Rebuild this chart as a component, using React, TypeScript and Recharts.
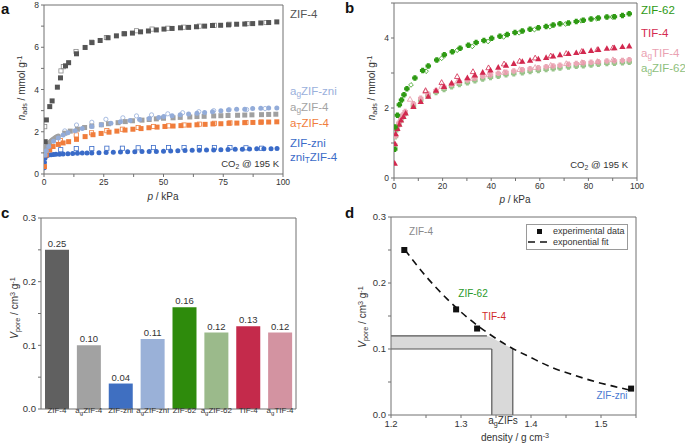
import React from 'react'
import {
  ScatterChart,
  Scatter,
  XAxis,
  YAxis,
  Bar,
  Cell,
  LabelList,
  ComposedChart,
  Line,
  Area,
  ReferenceLine,
} from 'recharts'

type Pt = [number, number]

// ---------- panel a: CO2 @ 195 K, ZIF-4 family (p / kPa, n / mmol g-1)
const zif4Ads: Pt[] = [[0.5, 1.53], [1, 2.56], [2.4, 3.19], [3.4, 3.46], [5.6, 4.11], [6.9, 4.55], [9, 5.12], [10.3, 5.27], [13.6, 5.69], [17.2, 5.99], [20.1, 6.22], [23.5, 6.32], [26.8, 6.45], [30.3, 6.54], [33.7, 6.64], [37, 6.67], [40.4, 6.73], [43.7, 6.77], [47, 6.82], [50.2, 6.86], [53.6, 6.89], [57.1, 6.92], [60.5, 6.94], [63.8, 6.97], [67.2, 7.0], [70.5, 7.03], [73.9, 7.04], [77.2, 7.06], [80.6, 7.09], [84, 7.1], [87.3, 7.12], [90.7, 7.15], [94, 7.17], [97.4, 7.2]]
const zif4Des: Pt[] = [[0.3, 2.24], [7.1, 4.88], [8.1, 5.08], [13.4, 5.8], [19.9, 6.24], [26.1, 6.46], [33.4, 6.64], [38.7, 6.78], [45.2, 6.86], [51.8, 6.9], [58.4, 6.95], [65, 7.0], [71.3, 7.04], [77.5, 7.09], [85, 7.12], [92.9, 7.17]]
const agZniAds: Pt[] = [[0.5, 0.9], [1, 1.1], [2, 1.3], [4, 1.55], [6, 1.7], [8, 1.85], [10, 1.95], [13, 2.05], [16, 2.15], [20, 2.25], [24, 2.33], [28, 2.4], [32, 2.47], [36, 2.53], [40, 2.58], [44, 2.63], [48, 2.68], [50.1, 2.72], [53.6, 2.76], [57, 2.8], [60.5, 2.84], [64, 2.88], [67.2, 2.91], [70.5, 2.95], [74, 3.0], [77.2, 3.03], [80.6, 3.06], [84, 3.07], [87.3, 3.1], [90.7, 3.11], [94, 3.13], [97.4, 3.13]]
const agZniDes: Pt[] = [[0.5, 1.45], [8.7, 2.04], [13.6, 2.32], [20, 2.45], [25.9, 2.59], [33, 2.66], [38.7, 2.75], [45, 2.8], [51.8, 2.85], [58, 2.9], [64.8, 2.95], [71, 3.0], [77.5, 3.05], [84.8, 3.05], [92.5, 3.1]]
const agZif4Low: Pt[] = [[0.3, 1.0], [0.6, 1.2], [1, 1.3], [1.5, 1.38], [2, 1.45], [2.5, 1.52], [3, 1.57], [3.5, 1.62], [4, 1.66], [4.5, 1.7], [5, 1.74], [5.5, 1.77], [6, 1.8]]
const agZif4Ads: Pt[] = [[8.7, 1.93], [11, 2.03], [14, 2.12], [17, 2.2], [20, 2.27], [24, 2.33], [27, 2.38], [31, 2.43], [34, 2.48], [37, 2.52], [41, 2.55], [44, 2.58], [47, 2.61], [50, 2.64], [54, 2.66], [57, 2.68], [61, 2.7], [64, 2.72], [67, 2.73], [71, 2.75], [74, 2.76], [77, 2.77], [81, 2.78], [84, 2.79], [87, 2.8], [91, 2.81], [94, 2.82], [97, 2.83]]
const aTZif4Ads: Pt[] = [[0.2, 0.35], [1, 0.9], [2.4, 1.14], [3.8, 1.3], [6, 1.4], [8, 1.47], [10.3, 1.53], [13.6, 1.64], [17.2, 1.77], [20.5, 1.86], [23.9, 1.92], [27.2, 1.98], [30.5, 2.03], [33.9, 2.08], [37.2, 2.12], [40.6, 2.15], [43.9, 2.19], [47.3, 2.22], [50.6, 2.25], [54, 2.27], [57.3, 2.29], [60.7, 2.31], [64, 2.33], [67.4, 2.35], [70.7, 2.37], [74, 2.38], [77.4, 2.4], [80.7, 2.41], [84, 2.43], [87.4, 2.44], [90.7, 2.45], [94, 2.46], [97.4, 2.47]]
const aTZif4Des: Pt[] = [[6.9, 1.58], [13.5, 1.85], [19.9, 1.95], [26.3, 2.05], [32.8, 2.12], [39.4, 2.2], [45.8, 2.25], [52.1, 2.28], [58.6, 2.32], [65, 2.36], [71.3, 2.4], [77.8, 2.42], [84.5, 2.44], [91, 2.46]]
const zniAds: Pt[] = [[0.1, 0.3], [0.2, 0.55], [0.4, 0.75], [0.7, 0.85], [1.2, 0.88], [2, 0.9], [3, 0.91], [4, 0.92], [5, 0.93], [6.5, 0.94], [8, 0.95], [10, 0.96], [12, 0.97], [14, 0.98], [16, 0.99], [18, 0.99], [20, 1.0], [23, 1.01], [26, 1.02], [29, 1.03], [32, 1.04], [35, 1.05], [38, 1.05], [41, 1.06], [44, 1.07], [47, 1.07], [50, 1.08], [53, 1.09], [56, 1.1], [59, 1.11], [62, 1.12], [65, 1.13], [68, 1.14], [71, 1.14], [74, 1.15], [77, 1.16], [80, 1.17], [83, 1.17], [86, 1.18], [89, 1.19], [92, 1.19], [95, 1.2], [97.5, 1.21]]
const zniDes: Pt[] = [[7, 1.15], [13.5, 1.2], [20, 1.2], [26.3, 1.22], [32.8, 1.22], [39.4, 1.24], [45.8, 1.25], [52.1, 1.25], [58.6, 1.25], [65, 1.25], [71.3, 1.25], [77.8, 1.25], [84.5, 1.24], [91, 1.22]]

// ---------- panel b: CO2 @ 195 K, ZIF-62 / TIF-4
const zif62Ads: Pt[] = [[0.3, 0.82], [0.4, 1.46], [1.4, 1.79], [2.2, 2.09], [3.1, 2.23], [4.1, 2.38], [5.3, 2.55], [8.6, 2.86], [11.8, 3.07], [14.1, 3.2], [17.6, 3.37], [20.7, 3.52], [24, 3.61], [27.2, 3.71], [30.6, 3.79], [33.8, 3.87], [37, 3.93], [40.2, 3.99], [43.6, 4.05], [46.6, 4.1], [49.8, 4.16], [52.8, 4.2], [56, 4.25], [59.4, 4.29], [62.6, 4.33], [65.5, 4.37], [68.3, 4.41], [71.8, 4.43], [75, 4.47], [77.9, 4.51], [81.1, 4.54], [84.1, 4.57], [87.6, 4.6], [90.7, 4.61], [94, 4.64], [96.8, 4.69]]
const zif62Des: Pt[] = [[7, 2.66], [13.2, 3.05], [19.6, 3.42], [26, 3.65], [32.2, 3.76], [38.7, 3.9], [45.1, 4.03], [51.5, 4.15], [57.8, 4.24], [64.2, 4.32], [70.6, 4.4], [77, 4.49], [83.4, 4.55], [89.8, 4.6]]
const tif4Ads: Pt[] = [[0.3, 0.42], [0.4, 0.98], [0.7, 1.26], [1.4, 1.41], [2.2, 1.53], [2.9, 1.65], [3.9, 1.75], [4.8, 1.85], [8, 2.04], [11, 2.18], [14.1, 2.33], [17.3, 2.5], [20.6, 2.61], [23.7, 2.71], [26.9, 2.78], [30.2, 2.86], [33.3, 2.94], [36.5, 3.02], [39.7, 3.08], [42.9, 3.16], [46.1, 3.22], [49.3, 3.27], [52.8, 3.33], [56, 3.36], [59.4, 3.4], [62.6, 3.44], [65.5, 3.48], [68.3, 3.52], [71.8, 3.55], [75, 3.58], [77.9, 3.61], [81.1, 3.64], [84.1, 3.67], [87.6, 3.7], [90.7, 3.72], [94, 3.75], [96.8, 3.77]]
const tif4Des: Pt[] = [[13, 2.5], [19.6, 2.73], [26, 2.9], [32.5, 3.04], [38.9, 3.15], [45.3, 3.26], [51.7, 3.34], [58.1, 3.43], [64.5, 3.49], [70.9, 3.56], [77.3, 3.62], [83.7, 3.67], [90.1, 3.72]]
const agTif4Ads: Pt[] = [[0.3, 0.95], [0.6, 1.2], [1.2, 1.42], [2, 1.57], [2.8, 1.7], [3.6, 1.8], [4.6, 1.9], [8, 2.12], [11, 2.28], [14, 2.4], [17.3, 2.5], [20.6, 2.6], [23.7, 2.68], [26.9, 2.75], [30.2, 2.8], [33.3, 2.86], [36.5, 2.91], [39.7, 2.95], [42.9, 2.99], [46.1, 3.02], [49.3, 3.06], [52.8, 3.09], [56, 3.12], [59.4, 3.15], [62.6, 3.18], [65.5, 3.2], [68.3, 3.22], [71.8, 3.25], [75, 3.27], [77.9, 3.29], [81.1, 3.31], [84.1, 3.32], [87.6, 3.34], [90.7, 3.35], [94, 3.36], [96.8, 3.38]]
const agTif4Des: Pt[] = [[6.6, 2.25], [13, 2.47], [19.6, 2.62], [26, 2.75], [32.5, 2.85], [38.9, 2.95], [45.3, 3.02], [51.7, 3.1], [58.1, 3.16], [64.5, 3.22], [70.9, 3.27], [77.3, 3.3], [83.7, 3.33], [90.1, 3.38]]
const agZif62Ads: Pt[] = [[0.3, 0.9], [0.6, 1.18], [1.2, 1.38], [2, 1.52], [2.8, 1.64], [3.6, 1.74], [4.6, 1.84], [8, 2.05], [11, 2.22], [14, 2.34], [17.3, 2.44], [20.6, 2.53], [23.7, 2.61], [26.9, 2.67], [30.2, 2.72], [33.3, 2.78], [36.5, 2.83], [39.7, 2.87], [42.9, 2.91], [46.1, 2.95], [49.3, 2.98], [52.8, 3.01], [56, 3.04], [59.4, 3.07], [62.6, 3.1], [65.5, 3.12], [68.3, 3.14], [71.8, 3.17], [75, 3.19], [77.9, 3.21], [81.1, 3.23], [84.1, 3.25], [87.6, 3.27], [90.7, 3.28], [94, 3.29], [96.8, 3.31]]

// ---------- panel c: pore volumes
const poreNames = ['ZIF-4', 'a_gZIF-4', 'ZIF-zni', 'a_gZIF-zni', 'ZIF-62', 'a_gZIF-62', 'TIF-4', 'a_gTIF-4']
const poreVolumes = [0.25, 0.1, 0.04, 0.11, 0.16, 0.12, 0.13, 0.12]
const poreColors = ['#606060', '#a2a2a2', '#3f6fc1', '#9ab1d8', '#2e8b0c', '#9bba8b', '#c42a4b', '#d393a1']

// ---------- panel d: pore volume vs density
const densities = [1.219, 1.293, 1.323, 1.543]
const densityVolumes = [0.25, 0.16, 0.131, 0.04]
const fitDensity = [1.22, 1.25, 1.28, 1.31, 1.34, 1.37, 1.4, 1.43, 1.46, 1.49, 1.52, 1.54]
const fitVolume = [0.25, 0.21, 0.176, 0.147, 0.123, 0.103, 0.087, 0.072, 0.061, 0.051, 0.043, 0.038]
const bandX = [1.2, 1.337, 1.344, 1.3441, 1.374]
const bandLow = [0.1, 0.1, 0.1, 0, 0]
const bandHigh = [0.12, 0.12, 0.117, 0.117, 0.1]
const bandEdges: Pt[][] = [
  [[1.2, 0.12], [1.337, 0.12]],
  [[1.2, 0.1], [1.344, 0.1]],
  [[1.344, 0.1], [1.344, 0]],
  [[1.374, 0.1], [1.374, 0]],
]

const FONT = '"Liberation Sans", Arial, Helvetica, sans-serif'
const AX = '#707070'
const TXT = '#333'

const toXY = (pts: Pt[]) => pts.map(([x, y]) => ({ x, y }))
const isMajor = (v: number, step: number) => Math.abs(v / step - Math.round(v / step)) < 1e-6

type Kind = 'square' | 'circle' | 'triangle' | 'plus'
function marker(kind: Kind, color: string, open = false, size = 5) {
  return (props: any) => {
    const { cx, cy } = props
    if (cx == null || cy == null) return <g />
    const s = open ? size - 0.8 : size
    const h = s / 2
    const p = { fill: open ? 'none' : color, stroke: color, strokeWidth: open ? 0.8 : 0 }
    if (kind === 'square') return <rect x={cx - h} y={cy - h} width={s} height={s} {...p} />
    if (kind === 'circle') return <circle cx={cx} cy={cy} r={h} {...p} />
    if (kind === 'triangle')
      return <polygon points={`${cx},${cy - h * 1.2} ${cx + h * 1.15},${cy + h * 0.85} ${cx - h * 1.15},${cy + h * 0.85}`} {...p} />
    const a = h * 0.55
    const d = `M${cx - a},${cy - h}H${cx + a}V${cy - a}H${cx + h}V${cy + a}H${cx + a}V${cy + h}H${cx - a}V${cy + a}H${cx - h}V${cy - a}H${cx - a}Z`
    return open ? <polygon points={`${cx},${cy - h} ${cx + h},${cy} ${cx},${cy + h} ${cx - h},${cy}`} {...p} /> : <path d={d} {...p} />
  }
}
const noShape = () => <g />

// text like "a_gZIF-4" -> a + subscript g + ZIF-4
function subText(label: string) {
  const parts = label.split(/_(.)/)
  return parts.map((s, i) =>
    i % 2 === 1 ? (
      <span key={i} style={{ fontSize: '0.72em', position: 'relative', top: '0.3em' }}>{s}</span>
    ) : (
      <span key={i}>{s}</span>
    )
  )
}
const Sub = ({ children }: { children: React.ReactNode }) => (
  <span style={{ fontSize: '0.72em', position: 'relative', top: '0.3em' }}>{children}</span>
)
const Sup = ({ children }: { children: React.ReactNode }) => (
  <span style={{ fontSize: '0.72em', position: 'relative', top: '-0.45em' }}>{children}</span>
)

function Txt({ x, y, children, size = 11, color = TXT, anchor = 'start', weight = 400 }: any) {
  const tx = anchor === 'middle' ? '-50%' : anchor === 'end' ? '-100%' : '0'
  return (
    <div
      style={{
        position: 'absolute', left: x, top: y, transform: `translate(${tx},-50%)`, fontSize: size, color,
        fontWeight: weight, whiteSpace: 'nowrap', lineHeight: 1, fontFamily: FONT,
      }}
    >
      {children}
    </div>
  )
}
function VTxt({ x, y, children, size = 10 }: any) {
  return (
    <div
      style={{
        position: 'absolute', left: x, top: y, transform: 'translate(-50%,-50%) rotate(-90deg)', fontSize: size,
        color: TXT, whiteSpace: 'nowrap', lineHeight: 1, fontFamily: FONT,
      }}
    >
      {children}
    </div>
  )
}

// bottom/left axes with labels, top/right mirrored tick frame
function frameAxes(xDomain: number[], xTicks: number[], xFmt: (v: number) => string, yDomain: number[], yTicks: number[], yFmt: (v: number) => string, yWidth: number, xHeight: number, fs: number) {
  const common = { stroke: AX, tickSize: 3, interval: 0 as const, allowDataOverflow: true }
  return [
    <XAxis key="xb" type="number" dataKey="x" domain={xDomain} ticks={xTicks} tickFormatter={xFmt} height={xHeight} tickMargin={2} tick={{ fontSize: fs, fill: TXT }} {...common} />,
    <XAxis key="xt" xAxisId="top" orientation="top" type="number" dataKey="x" domain={xDomain} ticks={xTicks} height={1} tick={false} {...common} />,
    <YAxis key="yl" type="number" dataKey="y" domain={yDomain} ticks={yTicks} tickFormatter={yFmt} width={yWidth} tickMargin={2} tick={{ fontSize: fs, fill: TXT }} {...common} />,
    <YAxis key="yr" yAxisId="right" orientation="right" type="number" dataKey="y" domain={yDomain} ticks={yTicks} width={1} tick={false} {...common} />,
    <Scatter key="frame" xAxisId="top" yAxisId="right" data={[{ x: xDomain[0], y: yDomain[0] }, { x: xDomain[1], y: yDomain[1] }]} shape={noShape} isAnimationActive={false} />,
  ]
}

const xTicksA = [0, 12.5, 25, 37.5, 50, 62.5, 75, 87.5, 100]
const yTicksA = [0, 1, 2, 3, 4, 5, 6, 7, 8]
const xTicksB = [0, 10, 20, 30, 40, 50, 60, 70, 80, 90, 100]
const yTicksB = [0, 1, 2, 3, 4, 5]
const yTicksCD = [0, 0.05, 0.1, 0.15, 0.2, 0.25, 0.3]
const xTicksD = [1.2, 1.25, 1.3, 1.35, 1.4, 1.45, 1.5, 1.55]

const seriesA = [
  { pts: zniAds, kind: 'circle', color: '#3a6bc8', open: false },
  { pts: zniDes, kind: 'square', color: '#3a6bc8', open: true },
  { pts: aTZif4Des, kind: 'square', color: '#f07d3c', open: true },
  { pts: aTZif4Ads, kind: 'square', color: '#f07d3c', open: false },
  { pts: agZniDes, kind: 'circle', color: '#93acd9', open: true },
  { pts: agZif4Low, kind: 'circle', color: '#a0a0a0', open: false },
  { pts: agZif4Ads, kind: 'square', color: '#a0a0a0', open: false },
  { pts: agZniAds, kind: 'circle', color: '#93acd9', open: false },
  { pts: zif4Des, kind: 'square', color: '#8a8a8a', open: true },
  { pts: zif4Ads, kind: 'square', color: '#555555', open: false },
] as const

const seriesB = [
  { pts: agZif62Ads, kind: 'plus', color: '#98c48a', open: false },
  { pts: agTif4Ads, kind: 'plus', color: '#eba7b5', open: false },
  { pts: agTif4Des, kind: 'triangle', color: '#e595a6', open: true },
  { pts: tif4Des, kind: 'triangle', color: '#d2294f', open: true },
  { pts: tif4Ads, kind: 'triangle', color: '#d2294f', open: false },
  { pts: zif62Des, kind: 'plus', color: '#2e9a13', open: true },
  { pts: zif62Ads, kind: 'plus', color: '#2e9a13', open: false },
] as const

function CategoryTick({ x, y, payload }: any) {
  const parts = String(payload.value).split(/_(.)/)
  return (
    <text x={x} y={y} dy="0.71em" textAnchor="middle" fontSize={8} fill={TXT} fontFamily={FONT}>
      {parts.map((s, i) =>
        i % 2 === 1 ? (
          <tspan key={i} fontSize={6} dy={2}>{s}</tspan>
        ) : (
          <tspan key={i} dy={i > 0 ? -2 : 0}>{s}</tspan>
        )
      )}
    </text>
  )
}

export default function App() {
  const barData = poreNames.map((name, i) => ({ name, v: poreVolumes[i] }))
  const pointsD = densities.map((x, i) => ({ x, y: densityVolumes[i] }))
  const fitD = fitDensity.map((x, i) => ({ x, y: fitVolume[i] }))
  const bandD = bandX.map((x, i) => ({ x, band: [bandLow[i], bandHigh[i]] }))
  const fmt1 = (v: number) => (isMajor(v, 0.1) ? v.toFixed(1) : '')

  return (
    <div style={{ position: 'absolute', left: 0, top: 0, width: 685, height: 445, background: '#fff', fontFamily: FONT, overflow: 'hidden' }}>
      {/* a */}
      <div style={{ position: 'absolute', left: 0, top: 0 }}>
        <ScatterChart width={300} height={200} margin={{ top: 4, right: 16, bottom: 0, left: 0 }}>
          {frameAxes([0, 100], xTicksA, (v) => (isMajor(v, 25) ? String(v) : ''), [0, 8], yTicksA, (v) => (v % 2 === 0 ? String(v) : ''), 44, 26, 8.5)}
          {seriesA.map((s, i) => (
            <Scatter key={i} data={toXY(s.pts as Pt[])} shape={marker(s.kind as Kind, s.color, s.open)} isAnimationActive={false} />
          ))}
        </ScatterChart>
      </div>
      <Txt x={1} y={8} size={15} weight={700} color="#111">a</Txt>
      <VTxt x={22} y={88}><i>n</i><Sub>ads</Sub> / mmol g<Sup>-1</Sup></VTxt>
      <Txt x={163} y={197} size={10} anchor="middle"><i>p</i> / kPa</Txt>
      <Txt x={279} y={164} size={9.5} anchor="end">CO<Sub>2</Sub> @ 195 K</Txt>
      <Txt x={290} y={15} size={11.5} color="#555">ZIF-4</Txt>
      <Txt x={290} y={92} size={11.5} color="#9ab0dc">{subText('a_gZIF-zni')}</Txt>
      <Txt x={290} y={108} size={11.5} color="#a3a3a3">{subText('a_gZIF-4')}</Txt>
      <Txt x={290} y={124} size={11.5} color="#f07d3c">{subText('a_TZIF-4')}</Txt>
      <Txt x={290} y={144} size={11.5} color="#3b6bc8">ZIF-zni</Txt>
      <Txt x={290} y={158} size={11.5} color="#3b6bc8">{subText('zni_TZIF-4')}</Txt>

      {/* b */}
      <div style={{ position: 'absolute', left: 345, top: 0 }}>
        <ScatterChart width={310} height={200} margin={{ top: 2, right: 17, bottom: 0, left: 0 }}>
          {frameAxes([0, 100], xTicksB, (v) => (isMajor(v, 20) ? String(v) : ''), [0, 5], yTicksB, (v) => (v % 2 === 0 ? String(v) : ''), 49, 22, 8.5)}
          {seriesB.map((s, i) => (
            <Scatter key={i} data={toXY(s.pts as Pt[])} shape={marker(s.kind as Kind, s.color, s.open, 5.5)} isAnimationActive={false} />
          ))}
        </ScatterChart>
      </div>
      <Txt x={345} y={7} size={15} weight={700} color="#111">b</Txt>
      <VTxt x={372} y={88}><i>n</i><Sub>ads</Sub> / mmol g<Sup>-1</Sup></VTxt>
      <Txt x={515} y={200} size={10} anchor="middle"><i>p</i> / kPa</Txt>
      <Txt x={628} y={165} size={9.5} anchor="end">CO<Sub>2</Sub> @ 195 K</Txt>
      <Txt x={641} y={11} size={11.5} color="#2e9a13">ZIF-62</Txt>
      <Txt x={641} y={34} size={11.5} color="#d42a50">TIF-4</Txt>
      <Txt x={641} y={54} size={11.5} color="#eaa2b2">{subText('a_gTIF-4')}</Txt>
      <Txt x={641} y={69} size={11.5} color="#8ec07c">{subText('a_gZIF-62')}</Txt>

      {/* c */}
      <div style={{ position: 'absolute', left: 0, top: 200 }}>
        <ComposedChart width={310} height={230} data={barData} margin={{ top: 17, right: 13, bottom: 0, left: 0 }}>
          <XAxis dataKey="name" height={21} stroke={AX} tickLine={false} tickSize={0} tickMargin={4} interval={0} tick={<CategoryTick />} />
          <XAxis dataKey="name" xAxisId="top" orientation="top" height={1} stroke={AX} tickLine={false} tick={false} />
          <YAxis type="number" domain={[0, 0.3]} ticks={yTicksCD} tickFormatter={fmt1} width={41} stroke={AX} tickSize={3} tickMargin={2} interval={0} allowDataOverflow tick={{ fontSize: 9.5, fill: TXT }} />
          <YAxis yAxisId="right" orientation="right" type="number" domain={[0, 0.3]} ticks={yTicksCD} width={1} stroke={AX} tickSize={3} tick={false} interval={0} allowDataOverflow />
          <Bar dataKey="v" barSize={24} isAnimationActive={false}>
            {barData.map((_, i) => (
              <Cell key={`cell-${i}`} fill={poreColors[i]} />
            ))}
            <LabelList dataKey="v" position="top" offset={3} formatter={(v: any) => Number(v).toFixed(2)} style={{ fontSize: 9.5, fill: TXT, fontFamily: FONT }} />
          </Bar>
          <Line dataKey="v" xAxisId="top" yAxisId="right" stroke="none" dot={false} activeDot={false} isAnimationActive={false} />
        </ComposedChart>
      </div>
      <Txt x={1} y={212} size={15} weight={700} color="#111">c</Txt>
      <VTxt x={15} y={308}><i>V</i><Sub>pore</Sub> / cm<Sup>3</Sup> g<Sup>-1</Sup></VTxt>

      {/* d */}
      <div style={{ position: 'absolute', left: 345, top: 200 }}>
        <ComposedChart width={300} height={245} margin={{ top: 16, right: 8, bottom: 0, left: 0 }}>
          {frameAxes([1.2, 1.55], xTicksD, (v) => (isMajor(v, 0.1) ? v.toFixed(1) : ''), [0, 0.3], yTicksCD, fmt1, 46, 30, 9.5)}
          <Area data={bandD} dataKey="band" type="linear" fill="#d9d9d9" fillOpacity={1} stroke="none" isAnimationActive={false} />
          {bandEdges.map((seg, i) => (
            <ReferenceLine key={i} segment={seg.map(([x, y]) => ({ x, y }))} stroke="#555" strokeWidth={1.2} />
          ))}
          <Line data={fitD} dataKey="y" type="monotone" stroke="#111" strokeWidth={1.6} strokeDasharray="7 5" dot={false} isAnimationActive={false} />
          <Scatter data={pointsD} dataKey="y" shape={marker('square', '#111', false, 6)} isAnimationActive={false} />
        </ComposedChart>
      </div>
      <Txt x={345} y={212} size={15} weight={700} color="#111">d</Txt>
      <VTxt x={363} y={317}><i>V</i><Sub>pore</Sub> / cm<Sup>3</Sup> g<Sup>-1</Sup></VTxt>
      <Txt x={515} y={438} size={10} anchor="middle">density / g cm<Sup>-3</Sup></Txt>
      <Txt x={421} y={232} size={10} anchor="middle" color="#8a8a8a">ZIF-4</Txt>
      <Txt x={473} y={294} size={10} anchor="middle" color="#2a9a2a">ZIF-62</Txt>
      <Txt x={494} y={317} size={10} anchor="middle" color="#d02828">TIF-4</Txt>
      <Txt x={612} y={396} size={10} anchor="middle" color="#4a7ad2">ZIF-zni</Txt>
      <Txt x={503} y={421} size={10} anchor="middle">{subText('a_gZIFs')}</Txt>
      <div style={{ position: 'absolute', left: 526, top: 224, width: 100, height: 24, border: '1px solid #9a9a9a', background: '#fff', fontFamily: FONT, fontSize: 9, color: TXT, whiteSpace: 'nowrap' }}>
        <div style={{ position: 'absolute', left: 10, top: 4, width: 5, height: 5, background: '#111' }} />
        <div style={{ position: 'absolute', left: 26, top: 1, lineHeight: '11px' }}>experimental data</div>
        <svg style={{ position: 'absolute', left: 0, top: 15 }} width={25} height={4}>
          <line x1={1} y1={2} x2={25} y2={2} stroke="#111" strokeWidth={1.6} strokeDasharray="7 5" />
        </svg>
        <div style={{ position: 'absolute', left: 26, top: 12, lineHeight: '11px' }}>exponential fit</div>
      </div>
    </div>
  )
}
